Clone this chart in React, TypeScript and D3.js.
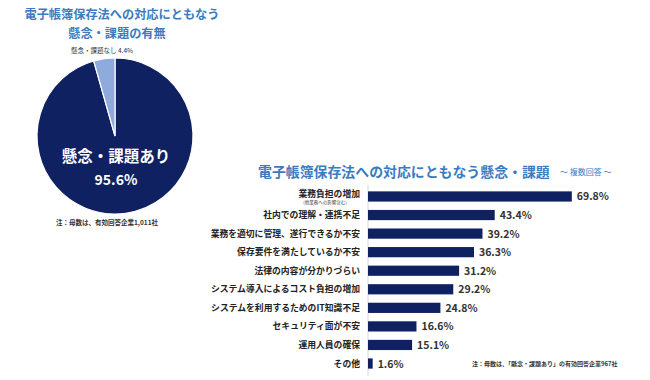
import React from "react";
import * as d3 from "d3";

const pieLabels = ["懸念・課題あり", "懸念・課題なし"];
const pieValues = [95.6, 4.4];
const pieColors = ["#0f2160", "#8faadc"];

const categories = [
  "業務負担の増加",
  "社内での理解・連携不足",
  "業務を適切に管理、遂行できるか不安",
  "保存要件を満たしているか不安",
  "法律の内容が分かりづらい",
  "システム導入によるコスト負担の増加",
  "システムを利用するためのIT知識不足",
  "セキュリティ面が不安",
  "運用人員の確保",
  "その他",
];
const values = [69.8, 43.4, 39.2, 36.3, 31.2, 29.2, 24.8, 16.6, 15.1, 1.6];

const FONT = "'Noto Sans CJK JP', 'Noto Sans', sans-serif";

export default function App() {
  const W = 650, H = 380;
  const cx = 115, cy = 136, r = 78;
  const pie = d3.pie<number>().sort(null)(pieValues);
  const arc = d3.arc<d3.PieArcDatum<number>>().innerRadius(0).outerRadius(r);

  const x = d3.scaleLinear().domain([0, 100]).range([368, 660]);
  const y = d3.scaleBand<string>().domain(categories).range([187.2, 372.8]).paddingInner(0.45).paddingOuter(0.225);

  return (
    <svg width={W} height={H} style={{ position: "absolute", left: 0, top: 0, background: "#fff" }} fontFamily={FONT}>
      <rect width={W} height={H} fill="#fff" />
      {/* Left title */}
      <text x={122} y={19} textAnchor="middle" fontSize={12.2} fontWeight="bold" fill="#3b7bbf">電子帳簿保存法への対応にともなう</text>
      <text x={117} y={38} textAnchor="middle" fontSize={12.2} fontWeight="bold" fill="#3b7bbf">懸念・課題の有無</text>

      {/* Pie */}
      <g transform={`translate(${cx},${cy})`}>
        {pie.map((d, i) => (
          <path key={i} d={arc(d) || ""} fill={pieColors[i]} stroke="#fff" strokeWidth={1.2} />
        ))}
      </g>
      <text x={cx + 1} y={cy + 26} textAnchor="middle" fontSize={15.5} fontWeight="bold" fill="#fff">{pieLabels[0]}</text>
      <text x={cx + 1} y={cy + 49} textAnchor="middle" fontSize={14} fontWeight="bold" fill="#fff">{pieValues[0]}%</text>
      <text x={102} y={53} textAnchor="middle" fontSize={6.5} fill="#333">{pieLabels[1]} {pieValues[1]}%</text>
      <text x={107} y={225} textAnchor="middle" fontSize={6.5} fontWeight="bold" fill="#333">注：母数は、有効回答企業1,011社</text>

      {/* Right title */}
      <text x={258} y={177} fontSize={13.9} fontWeight="bold" fill="#3b7bbf">電子帳簿保存法への対応にともなう懸念・課題</text>
      <text x={560} y={175} fontSize={8} fill="#3b7bbf">～ 複数回答 ～</text>

      {/* Axis line */}
      <line x1={x(0)} x2={x(0)} y1={185} y2={376} stroke="#d0d0d0" strokeWidth={0.8} />

      {categories.map((c, i) => {
        const yc = (y(c) as number) + y.bandwidth() / 2;
        return (
          <g key={c}>
            <rect x={x(0)} y={y(c)} width={x(values[i]) - x(0)} height={y.bandwidth()} fill="#0f2160" />
            <text x={360} y={i === 0 ? yc + 1 : yc + 3} textAnchor="end" fontSize={8.8} fontWeight="bold" fill="#222">{c}</text>
            {i === 0 && (
              <text x={325} y={yc + 8} textAnchor="middle" fontSize={4.5} fill="#444">(他業務への影響含む)</text>
            )}
            <text x={x(values[i]) + 5} y={yc + 4} fontSize={10.5} fontWeight="bold" fill="#333">{values[i].toFixed(1)}%</text>
          </g>
        );
      })}
      <text x={472} y={366} fontSize={6} fontWeight="bold" fill="#333">注：母数は、「懸念・課題あり」の有効回答企業967社</text>
    </svg>
  );
}
